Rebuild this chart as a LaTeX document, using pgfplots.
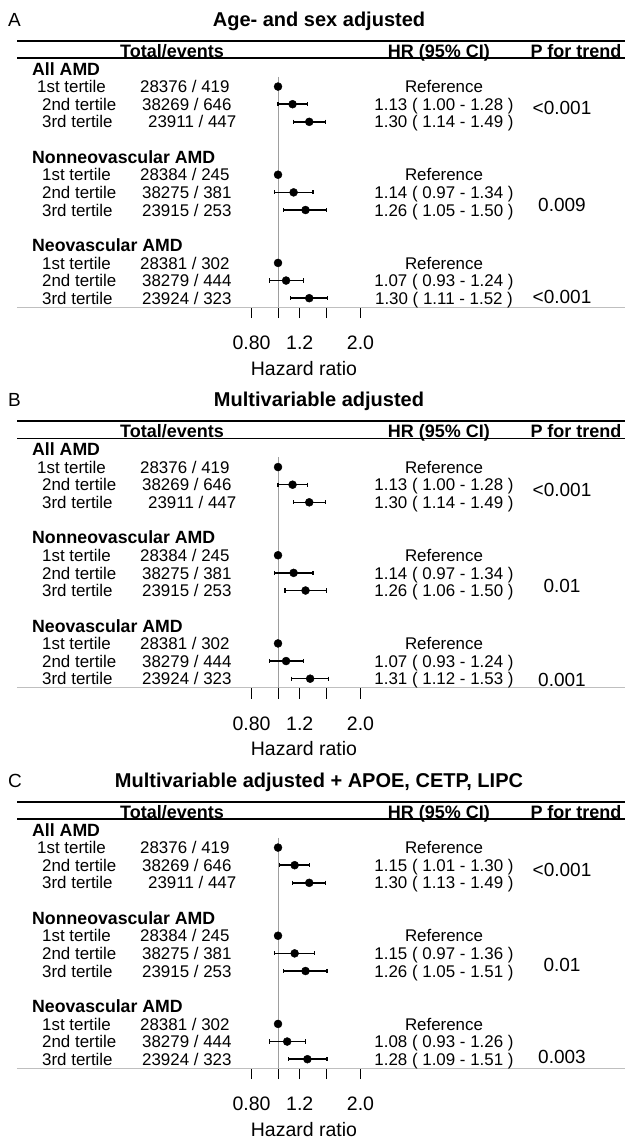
\documentclass[border=0pt]{standalone}
\usepackage{pgfplots}
\usepackage{pgfplotstable}
\pgfplotsset{compat=1.18}
\usepackage{fontspec}
\setmainfont{Liberation Sans}
\newcommand\rt{\fontsize{16.9}{18}\selectfont}
\newcommand\gt{\fontsize{17.7}{19}\selectfont\bfseries}
\newcommand\hdr{\fontsize{18}{20}\selectfont\bfseries}
\newcommand\ttl{\fontsize{20}{22}\selectfont\bfseries}
\newcommand\pvf{\fontsize{19}{21}\selectfont}
\newcommand\tkf{\fontsize{19.5}{21}\selectfont}

\tikzset{
  myci/.style={black, line width=1.5pt, mark=|, mark size=2.1pt, mark options={line width=1.3pt, solid}},
  mydot/.style={black, only marks, mark=*, mark size=4pt},
  myrefl/.style={black!38, line width=0.9pt},
}

% static parts shared by the three panels
\newcommand\statictext[3]{%
\begin{scope}[x=1pt,y=-1pt,yshift=-#1pt]
 \node[anchor=base west,inner sep=0,font=\pvf] at (8,26) {#2};
 \node[anchor=base,inner sep=0,font=\ttl] at (319,26) {#3};
 \draw[line width=1.8pt] (17,40.7) -- (625,40.7);
 \draw[line width=1.8pt] (17,58) -- (625,58);
 \node[anchor=base,inner sep=0,font=\hdr] at (172,57) {Total/events};
 \node[anchor=base,inner sep=0,font=\hdr] at (439,57) {HR (95\% CI)};
 \node[anchor=base,inner sep=0,font=\hdr] at (576,57) {P for trend};
 \node[anchor=base west,inner sep=0,font=\gt] at (32,75.2) {All AMD};
 \node[anchor=base west,inner sep=0,font=\gt] at (32,163.4) {Nonneovascular AMD};
 \node[anchor=base west,inner sep=0,font=\gt] at (32,251.6) {Neovascular AMD};
 \node[anchor=base west,inner sep=0,font=\rt] at (37,92.6) {1st tertile};
 \node[anchor=base west,inner sep=0,font=\rt] at (42,110.2) {2nd tertile};
 \node[anchor=base west,inner sep=0,font=\rt] at (42,127.9) {3rd tertile};
 \node[anchor=base west,inner sep=0,font=\rt] at (42,180.8) {1st tertile};
 \node[anchor=base west,inner sep=0,font=\rt] at (42,198.5) {2nd tertile};
 \node[anchor=base west,inner sep=0,font=\rt] at (42,216.1) {3rd tertile};
 \node[anchor=base west,inner sep=0,font=\rt] at (42,269) {1st tertile};
 \node[anchor=base west,inner sep=0,font=\rt] at (42,286.6) {2nd tertile};
 \node[anchor=base west,inner sep=0,font=\rt] at (42,304.2) {3rd tertile};
 \node[anchor=base west,inner sep=0,font=\rt] at (140,92.6) {28376 / 419};
 \node[anchor=base west,inner sep=0,font=\rt] at (142,110.2) {38269 / 646};
 \node[anchor=base west,inner sep=0,font=\rt] at (148,127.9) {23911 / 447};
 \node[anchor=base west,inner sep=0,font=\rt] at (140,180.8) {28384 / 245};
 \node[anchor=base west,inner sep=0,font=\rt] at (142,198.5) {38275 / 381};
 \node[anchor=base west,inner sep=0,font=\rt] at (142,216.1) {23915 / 253};
 \node[anchor=base west,inner sep=0,font=\rt] at (140,269) {28381 / 302};
 \node[anchor=base west,inner sep=0,font=\rt] at (142,286.6) {38279 / 444};
 \node[anchor=base west,inner sep=0,font=\rt] at (142,304.2) {23924 / 323};
 \node[anchor=base,inner sep=0,font=\rt] at (444,92.6) {Reference};
 \node[anchor=base,inner sep=0,font=\rt] at (444,180.8) {Reference};
 \node[anchor=base,inner sep=0,font=\rt] at (444,269) {Reference};
 \node[anchor=base,inner sep=0,font=\tkf] at (304,375) {Hazard ratio};
\end{scope}}

\newcommand\hrtext[7]{%
\begin{scope}[x=1pt,y=-1pt,yshift=-#1pt]
 \node[anchor=base,inner sep=0,font=\rt] at (444,110.2) {#2};
 \node[anchor=base,inner sep=0,font=\rt] at (444,127.9) {#3};
 \node[anchor=base,inner sep=0,font=\rt] at (444,198.5) {#4};
 \node[anchor=base,inner sep=0,font=\rt] at (444,216.1) {#5};
 \node[anchor=base,inner sep=0,font=\rt] at (444,286.6) {#6};
 \node[anchor=base,inner sep=0,font=\rt] at (444,304.2) {#7};
\end{scope}}

\newcommand\ptext[7]{%
\begin{scope}[x=1pt,y=-1pt,yshift=-#1pt]
 \node[anchor=base,inner sep=0,font=\pvf] at (562,#3) {#2};
 \node[anchor=base,inner sep=0,font=\pvf] at (562,#5) {#4};
 \node[anchor=base,inner sep=0,font=\pvf] at (562,#7) {#6};
\end{scope}}

\pgfplotstableread{
row hr
-1  1.00
-2  1.13
-3  1.30
-6  1.00
-7  1.14
-8  1.26
-11 1.00
-12 1.07
-13 1.30
}\hrA
\pgfplotstableread{
row hr
-1  1.00
-2  1.13
-3  1.30
-6  1.00
-7  1.14
-8  1.26
-11 1.00
-12 1.07
-13 1.31
}\hrB
\pgfplotstableread{
row hr
-1  1.00
-2  1.15
-3  1.30
-6  1.00
-7  1.15
-8  1.26
-11 1.00
-12 1.08
-13 1.28
}\hrC

\begin{document}
\begin{tikzpicture}
\path (0pt,0pt) rectangle (625pt,-1138pt);

% ================= Panel A =================
\statictext{0}{A}{Age- and sex adjusted}
\begin{axis}[at={(17pt,-307pt)}, anchor=south west,
  width=608pt, height=266.3pt, scale only axis,
  xmode=log, xmin=0.1115, xmax=18.47, ymin=-13.5, ymax=1.6,
  axis x line*=bottom, axis y line=none,
  x axis line style={draw=black!25, line width=0.9pt},
  xtick={0.8,1,1.2,1.5,2}, xticklabels={0.80,,1.2,,2.0},
  minor xtick={},
  tick align=outside, major tick length=11pt,
  xtick style={black, line width=0.8pt},
  xticklabel style={font=\tkf, inner sep=0pt, anchor=north},
  xticklabel shift=18pt,
  clip=false]
\addplot[myrefl] coordinates {(1,-0.45) (1,-13.5)};
\addplot[myci] coordinates {(1.00,-2) (1.28,-2)};
\addplot[myci] coordinates {(1.14,-3) (1.49,-3)};
\addplot[myci] coordinates {(0.97,-7) (1.34,-7)};
\addplot[myci] coordinates {(1.05,-8) (1.50,-8)};
\addplot[myci] coordinates {(0.93,-12) (1.24,-12)};
\addplot[myci] coordinates {(1.11,-13) (1.52,-13)};
\addplot[mydot] table[x=hr, y=row] {\hrA};
\end{axis}
\hrtext{0}{1.13 ( 1.00 - 1.28 )}{1.30 ( 1.14 - 1.49 )}{1.14 ( 0.97 - 1.34 )}{1.26 ( 1.05 - 1.50 )}{1.07 ( 0.93 - 1.24 )}{1.30 ( 1.11 - 1.52 )}
\ptext{0}{<0.001}{114.8}{0.009}{211.6}{<0.001}{303.8}

% ================= Panel B =================
\statictext{380.5}{B}{Multivariable adjusted}
\begin{axis}[at={(17pt,-687.5pt)}, anchor=south west,
  width=608pt, height=266.3pt, scale only axis,
  xmode=log, xmin=0.1115, xmax=18.47, ymin=-13.5, ymax=1.6,
  axis x line*=bottom, axis y line=none,
  x axis line style={draw=black!25, line width=0.9pt},
  xtick={0.8,1,1.2,1.5,2}, xticklabels={0.80,,1.2,,2.0},
  minor xtick={},
  tick align=outside, major tick length=11pt,
  xtick style={black, line width=0.8pt},
  xticklabel style={font=\tkf, inner sep=0pt, anchor=north},
  xticklabel shift=18pt,
  clip=false]
\addplot[myrefl] coordinates {(1,-0.45) (1,-13.5)};
\addplot[myci] coordinates {(1.00,-2) (1.28,-2)};
\addplot[myci] coordinates {(1.14,-3) (1.49,-3)};
\addplot[myci] coordinates {(0.97,-7) (1.34,-7)};
\addplot[myci] coordinates {(1.06,-8) (1.50,-8)};
\addplot[myci] coordinates {(0.93,-12) (1.24,-12)};
\addplot[myci] coordinates {(1.12,-13) (1.53,-13)};
\addplot[mydot] table[x=hr, y=row] {\hrB};
\end{axis}
\hrtext{380.5}{1.13 ( 1.00 - 1.28 )}{1.30 ( 1.14 - 1.49 )}{1.14 ( 0.97 - 1.34 )}{1.26 ( 1.06 - 1.50 )}{1.07 ( 0.93 - 1.24 )}{1.31 ( 1.12 - 1.53 )}
\ptext{380.5}{<0.001}{115.8}{0.01}{211.8}{0.001}{305.8}

% ================= Panel C =================
\statictext{761}{C}{Multivariable adjusted + APOE, CETP, LIPC}
\begin{axis}[at={(17pt,-1068pt)}, anchor=south west,
  width=608pt, height=266.3pt, scale only axis,
  xmode=log, xmin=0.1115, xmax=18.47, ymin=-13.5, ymax=1.6,
  axis x line*=bottom, axis y line=none,
  x axis line style={draw=black!25, line width=0.9pt},
  xtick={0.8,1,1.2,1.5,2}, xticklabels={0.80,,1.2,,2.0},
  minor xtick={},
  tick align=outside, major tick length=11pt,
  xtick style={black, line width=0.8pt},
  xticklabel style={font=\tkf, inner sep=0pt, anchor=north},
  xticklabel shift=18pt,
  clip=false]
\addplot[myrefl] coordinates {(1,-0.45) (1,-13.5)};
\addplot[myci] coordinates {(1.01,-2) (1.30,-2)};
\addplot[myci] coordinates {(1.13,-3) (1.49,-3)};
\addplot[myci] coordinates {(0.97,-7) (1.36,-7)};
\addplot[myci] coordinates {(1.05,-8) (1.51,-8)};
\addplot[myci] coordinates {(0.93,-12) (1.26,-12)};
\addplot[myci] coordinates {(1.09,-13) (1.51,-13)};
\addplot[mydot] table[x=hr, y=row] {\hrC};
\end{axis}
\hrtext{761}{1.15 ( 1.01 - 1.30 )}{1.30 ( 1.13 - 1.49 )}{1.15 ( 0.97 - 1.36 )}{1.26 ( 1.05 - 1.51 )}{1.08 ( 0.93 - 1.26 )}{1.28 ( 1.09 - 1.51 )}
\ptext{761}{<0.001}{115.8}{0.01}{210.8}{0.003}{302.8}

\end{tikzpicture}
\end{document}
